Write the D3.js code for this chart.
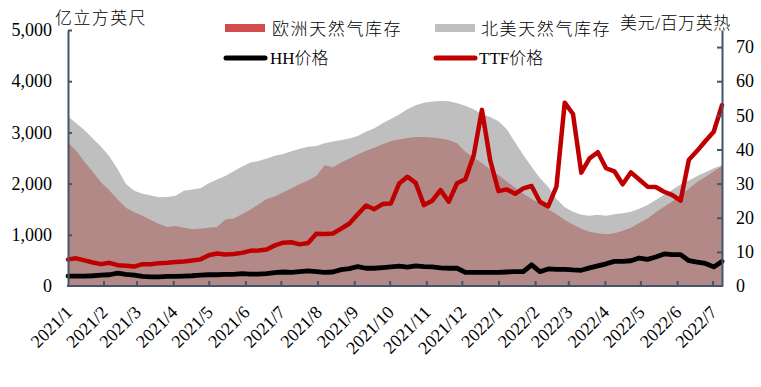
<!DOCTYPE html>
<html><head><meta charset="utf-8">
<script src="https://cdn.jsdelivr.net/npm/d3@7"></script>
<style>
html,body{margin:0;padding:0;background:#fff;}
svg{display:block;}
</style></head>
<body>
<svg id="chart" width="761" height="387"></svg>
<script>
// ---- data (weekly, starting 2021-01-02) ----
const startDate = Date.UTC(2021, 0, 2);
const ttf = [7.8,8.1,7.5,6.9,6.4,6.8,6.1,5.9,5.7,6.4, 6.4,6.7,6.8,7.0,7.2,7.5,7.8,9.0,9.5,9.2,
  9.4,9.7,10.3,10.4,10.7,11.9,12.7,12.8,12.2,12.6, 15.3,15.2,15.4,16.8,18.3,21.0,23.6,22.5,24.0,24.2,
  30.0,32.0,30.2,23.7,25.0,28.1,24.7,30.1,31.3,38.2, 51.6,36.8,27.8,28.3,27.0,28.6,29.3,24.7,23.3,29.1,
  53.7,50.4,33.2,37.4,39.2,34.5,33.6,29.8,33.3,31.2, 29.1,29.0,27.6,26.6,25.0,37.0,39.6,42.5,45.2,53.0];
const hh = [2.9,2.9,2.9,3.0,3.2,3.3,3.8,3.4,3.2,2.8, 2.7,2.7,2.8,2.8,2.9,3.0,3.2,3.3,3.3,3.4,
  3.4,3.6,3.5,3.5,3.6,3.9,4.1,4.0,4.2,4.4, 4.2,4.0,4.1,4.8,5.1,5.7,5.2,5.2,5.4,5.6,
  5.8,5.5,5.9,5.7,5.6,5.3,5.2,5.2,4.0,4.0, 4.0,4.0,4.0,4.1,4.2,4.2,6.2,4.2,5.0,4.9,
  4.9,4.7,4.6,5.3,5.9,6.5,7.2,7.2,7.4,8.2, 7.8,8.5,9.4,9.2,9.2,7.4,7.0,6.6,5.6,7.2];
const usStock = [3310,3180,3040,2880,2720,2530,2280,1990,1860,1800, 1770,1735,1740,1765,1860,1885,1910,2005,2080,2150,
  2240,2330,2410,2440,2490,2545,2580,2630,2680,2720, 2735,2790,2820,2850,2880,2930,3015,3080,3180,3260,
  3350,3450,3530,3580,3605,3615,3610,3570,3520,3450, 3360,3300,3220,3060,2810,2560,2330,2110,1940,1700,
  1540,1450,1390,1370,1390,1370,1400,1420,1450,1510, 1580,1680,1780,1880,1980,2060,2150,2220,2300,2360];
const euStock = [2800,2640,2420,2230,2020,1870,1690,1530,1440,1370, 1290,1210,1150,1170,1140,1110,1120,1140,1150,1300,
  1320,1400,1490,1590,1700,1750,1830,1910,1990,2060, 2150,2360,2320,2410,2490,2570,2640,2700,2770,2830,
  2860,2890,2910,2910,2900,2880,2850,2790,2620,2510, 2400,2280,2170,2040,1920,1800,1700,1610,1500,1400,
  1290,1200,1120,1060,1030,1010,1030,1080,1140,1230, 1320,1440,1550,1650,1780,1900,2030,2130,2240,2340];
const leftTicks = [0,1000,2000,3000,4000,5000];
const rightTicks = [0,10,20,30,40,50,60,70];
const seriesNames = ["欧洲天然气库存","北美天然气库存","HH价格","TTF价格"];
const leftTitle = "亿立方英尺";
const rightTitle = "美元/百万英热";

const dates = ttf.map((_, i) => d3.utcDay.offset(new Date(startDate), i * 7));
const months = d3.utcMonth.range(new Date(Date.UTC(2021,0,1)), new Date(Date.UTC(2022,6,2)));

// ---- layout ----
const L = 68, R = 722, T = 30, B = 286;
const axisColor = "#44546A";
const numFont = "'Liberation Serif','DejaVu Serif',serif";
const cjkFont = "'Liberation Serif','Noto Sans CJK SC',serif";

const svg = d3.select("#chart");
const x = d3.scaleUtc().domain([dates[0], dates[dates.length-1]]).range([L, R]);
const yL = d3.scaleLinear().domain([0, 5000]).range([B, T]);
const yR = d3.scaleLinear().domain([0, 75]).range([B, T]);

const areaUS = d3.area().x((d,i)=>x(dates[i])).y0(B).y1(d=>yL(d));
svg.append("path").attr("d", areaUS(usStock)).attr("fill", "#bfbfbf");
svg.append("path").attr("d", areaUS(euStock)).attr("fill", "#b28987");

const line = d3.line().x((d,i)=>x(dates[i])).y(d=>yR(d));
svg.append("path").attr("d", line(hh)).attr("fill","none").attr("stroke","#000")
  .attr("stroke-width",4.8).attr("stroke-linejoin","round").attr("stroke-linecap","round");
svg.append("path").attr("d", line(ttf)).attr("fill","none").attr("stroke","#C00000")
  .attr("stroke-width",4.5).attr("stroke-linejoin","round").attr("stroke-linecap","round");

// ---- axes ----
function styleAxis(g){
  g.selectAll(".domain").attr("stroke", axisColor).attr("stroke-width", 2);
  g.selectAll(".tick line").attr("stroke", axisColor).attr("stroke-width", 2);
  g.selectAll("text").attr("fill","#000").style("font-family", numFont).style("font-size","18px");
}
const gB = svg.append("g").attr("transform",`translate(0,${B})`)
  .call(d3.axisBottom(x).tickValues(months.slice(1)).tickSizeInner(-5).tickSizeOuter(0).tickFormat(""));
gB.select(".domain").attr("d", `M${L-1},0H${R+1}`);
styleAxis(gB);

const gL = svg.append("g").attr("transform",`translate(${L},0)`)
  .call(d3.axisLeft(yL).tickValues(leftTicks).tickSizeInner(-4).tickSizeOuter(0).tickPadding(16).tickFormat(d3.format(",")));
styleAxis(gL);
gL.selectAll(".tick").filter(d=>d===0).select("line").remove();

const gR = svg.append("g").attr("transform",`translate(${R},0)`)
  .call(d3.axisRight(yR).tickValues(rightTicks).tickSizeInner(-5).tickSizeOuter(0).tickPadding(14));
styleAxis(gR);
gR.selectAll(".tick").filter(d=>d===0).select("line").remove();

// bottom labels
svg.append("g").selectAll("text").data(months).join("text")
  .attr("transform", d => `translate(${Math.max(L, x(d))+1},309) rotate(-45)`)
  .attr("text-anchor","end").attr("dy","0.35em")
  .style("font-family", numFont).style("font-size","18px").attr("fill","#000")
  .text(d => `${d.getUTCFullYear()}/${d.getUTCMonth()+1}`);

// titles
svg.append("text").attr("x",55).attr("y",18).attr("dy","0.35em")
  .style("font-family",cjkFont).style("font-size","17px").style("font-weight",300).style("letter-spacing","1.4px").text(leftTitle);
svg.append("text").attr("x",620).attr("y",23).attr("dy","0.35em")
  .style("font-family",cjkFont).style("font-size","17px").style("font-weight",300).style("letter-spacing","0.6px").text(rightTitle);

// legend
const leg = svg.append("g");
leg.append("rect").attr("x",225).attr("y",24).attr("width",40).attr("height",8).attr("fill","#d14c4c");
leg.append("rect").attr("x",435).attr("y",24).attr("width",40).attr("height",8).attr("fill","#bfbfbf");
leg.append("line").attr("x1",226).attr("x2",265).attr("y1",58).attr("y2",58)
  .attr("stroke","#000").attr("stroke-width",5).attr("stroke-linecap","round");
leg.append("line").attr("x1",436).attr("x2",475).attr("y1",58).attr("y2",58)
  .attr("stroke","#C00000").attr("stroke-width",5).attr("stroke-linecap","round");
const legText = [[272,29,seriesNames[0],1.6],[481,29,seriesNames[1],1.6],[270,58,seriesNames[2],0],[479,58,seriesNames[3],0]];
leg.selectAll("text.lt").data(legText).join("text").attr("class","lt")
  .attr("x",d=>d[0]).attr("y",d=>d[1]).attr("dy","0.35em")
  .style("font-family",cjkFont).style("font-size","17px").style("font-weight",300).style("letter-spacing",d=>d[3]+"px")
  .text(d=>d[2]);
</script>
</body></html>
